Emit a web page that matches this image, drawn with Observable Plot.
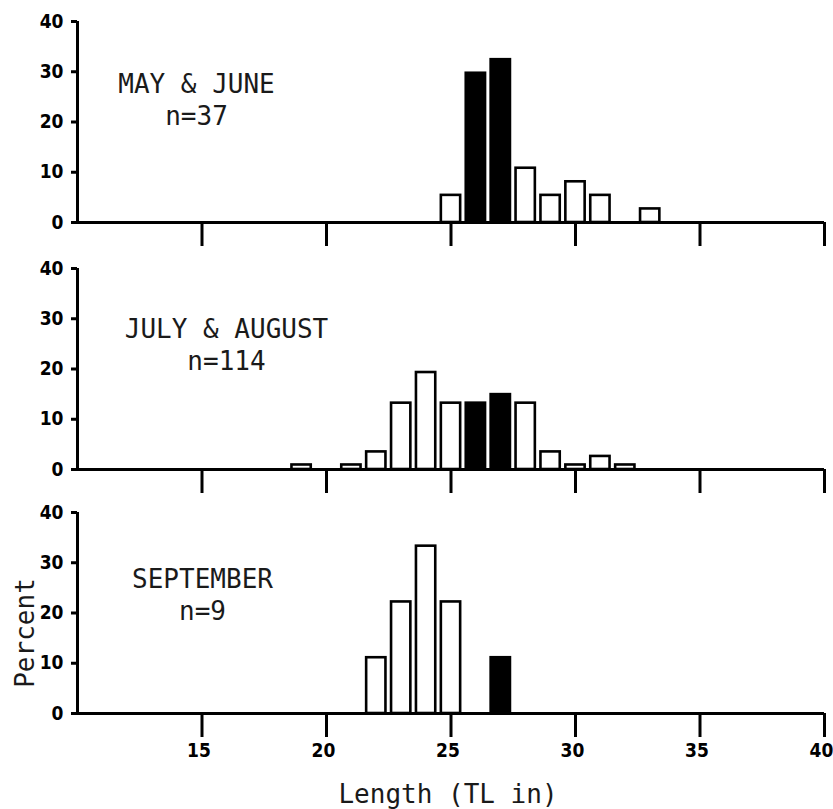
<!DOCTYPE html>
<html>
<head>
<meta charset="utf-8">
<script src="https://cdn.jsdelivr.net/npm/d3@7"></script>
<script src="https://cdn.jsdelivr.net/npm/@observablehq/plot@0.6"></script>
<style>
  html, body { margin: 0; padding: 0; background: #fff; }
  #chart { width: 833px; }
  #chart svg { display: block; }
</style>
</head>
<body>
<div id="chart"></div>
<script>
// ---- data ----
const lengthsMayJune = [25, 26, 27, 28, 29, 30, 31, 33];
const percentMayJune = [5.4, 29.7, 32.4, 10.8, 5.4, 8.1, 5.4, 2.7];

const lengthsJulyAug = [19, 21, 22, 23, 24, 25, 26, 27, 28, 29, 30, 31, 32];
const percentJulyAug = [0.9, 0.9, 3.5, 13.2, 19.3, 13.2, 13.2, 14.9, 13.2, 3.5, 0.9, 2.6, 0.9];

const lengthsSept = [22, 23, 24, 25, 27];
const percentSept = [11.1, 22.2, 33.3, 22.2, 11.1];

const shadedLengths = [26, 27];
const panelTitles = ["MAY & JUNE", "JULY & AUGUST", "SEPTEMBER"];
const panelN = [37, 114, 9];
const xTicks = [15, 20, 25, 30, 35, 40];
const yTicks = [0, 10, 20, 30, 40];
const xDomain = [10, 40];
const yDomain = [0, 40];
const xLabel = "Length (TL in)";
const yLabel = "Percent";

// ---- layout ----
const mono = "'DejaVu Sans Mono', 'Liberation Mono', monospace";
const tickFont = "'DejaVu Sans Condensed', 'DejaVu Sans', sans-serif";

const panels = [
  {lengths: lengthsMayJune, pct: percentMayJune, mt: 21, mb: 26, tdx: 119, tdy: 49, last: false},
  {lengths: lengthsJulyAug, pct: percentJulyAug, mt: 20, mb: 26, tdx: 149, tdy: 47, last: false},
  {lengths: lengthsSept, pct: percentSept, mt: 17, mb: 96, tdx: 125, tdy: 53, last: true}
];

const container = document.getElementById("chart");

panels.forEach((p, i) => {
  const data = p.lengths.map((len, j) => ({len, pct: p.pct[j], shaded: shadedLengths.includes(len)}));
  const marks = [
    Plot.rectY(data, {
      x1: d => d.len - 0.5,
      x2: d => d.len + 0.5,
      y: "pct",
      fill: d => d.shaded ? "black" : "white",
      stroke: "black",
      strokeWidth: 2.6,
      insetLeft: 2.8,
      insetRight: 2.8
    }),
    Plot.ruleY([yDomain[0]], {stroke: "black", strokeWidth: 3}),
    Plot.ruleX([xDomain[0]], {stroke: "black", strokeWidth: 3}),
    Plot.axisY({
      ticks: yTicks, tickSize: 6, tickPadding: 8, strokeWidth: 3,
      fontSize: 19, fontWeight: "bold", fontFamily: tickFont, label: null
    }),
    Plot.axisX({
      ticks: xTicks, tickSize: 24, strokeWidth: 3,
      tickFormat: () => "", label: null
    })
  ];
  if (p.last) {
    marks.push(
      Plot.axisX({
        ticks: xTicks, tickSize: 0, tickPadding: 30, dx: -3,
        fontSize: 19, fontWeight: "bold", fontFamily: tickFont, label: null
      })
    );
  }
  marks.push(
    Plot.text([panelTitles[i] + "\nn=" + panelN[i]], {
      frameAnchor: "top-left", textAnchor: "middle", lineAnchor: "top",
      dx: p.tdx, dy: p.tdy, fontSize: 26, lineHeight: 1.23,
      fontFamily: mono, fill: "#1a1a1a"
    })
  );
  if (p.last) {
    marks.push(
      Plot.text([yLabel], {
        frameAnchor: "left", rotate: -90, textAnchor: "middle", lineAnchor: "middle",
        dx: -52, dy: 20, fontSize: 26, fontFamily: mono, fill: "#1a1a1a"
      }),
      Plot.text([xLabel], {
        frameAnchor: "bottom", textAnchor: "middle", lineAnchor: "top",
        dx: -3, dy: 71, fontSize: 26, fontFamily: mono, fill: "#1a1a1a"
      })
    );
  }
  const chart = Plot.plot({
    width: 833,
    height: p.mt + 201 + p.mb,
    marginLeft: 77,
    marginRight: 9,
    marginTop: p.mt,
    marginBottom: p.mb,
    x: {domain: xDomain, axis: null},
    y: {domain: yDomain, axis: null},
    style: {background: "white", color: "black", overflow: "visible"},
    marks
  });
  container.appendChild(chart);
});
</script>
</body>
</html>
